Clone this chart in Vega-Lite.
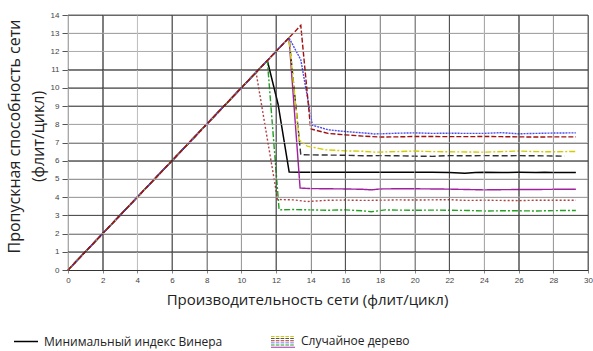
{
  "$schema": "https://vega.github.io/schema/vega-lite/v6.json",
  "width": 520,
  "height": 255,
  "autosize": {"type": "none"},
  "padding": {"left": 68, "top": 15, "right": 5, "bottom": 81},
  "background": "white",
  "config": {
    "view": {"stroke": null},
    "font": "Open Sans",
    "axis": {"grid": true, "gridColor": "#888888", "gridOpacity": 1, "gridWidth": 1},
    "axisX": {
      "titleFont": "Open Sans", "titleFontSize": 15, "titleFontWeight": "normal", "titleColor": "#222",
      "titleX": 239, "titleY": 29, "titleBaseline": "middle", "titleAlign": "center",
      "tickCount": 15, "labelOverlap": false, "labelFlush": false,
      "labelFont": "Liberation Sans", "labelFontSize": 8, "labelColor": "#444", "labelPadding": 3,
      "tickSize": 3, "tickColor": "#888",
      "domain": true, "domainColor": "#333"
    },
    "axisY": {
      "titleFont": "Open Sans", "titleFontSize": 16, "titleFontWeight": "normal", "titleColor": "#222",
      "titleLineHeight": 24,
      "titleX": -54, "titleY": 121, "titleBaseline": "middle", "titleAlign": "center",
      "tickCount": 14, "labelOverlap": false, "labelFlush": false,
      "labelFont": "Liberation Sans", "labelFontSize": 8, "labelColor": "#444", "labelPadding": 3,
      "tickSize": 6, "tickColor": "#555",
      "domain": true, "domainColor": "#aaaaaa"
    }
  },
  "datasets": {
    "gridx": [
      {"x": 0}, {"x": 2}, {"x": 4}, {"x": 6}, {"x": 8}, {"x": 10}, {"x": 12}, {"x": 14},
      {"x": 16}, {"x": 18}, {"x": 20}, {"x": 22}, {"x": 24}, {"x": 26}, {"x": 28}, {"x": 30}
    ],
    "gridy": [
      {"y": 1}, {"y": 2}, {"y": 3}, {"y": 4}, {"y": 5}, {"y": 6}, {"y": 7},
      {"y": 8}, {"y": 9}, {"y": 10}, {"y": 11}, {"y": 12}, {"y": 13}, {"y": 14}
    ],
    "wiener": [
      {"group": "Минимальный индекс Винера", "x": 0, "y": 0},
      {"group": "Минимальный индекс Винера", "x": 11.5, "y": 11.5},
      {"group": "Минимальный индекс Винера", "x": 12.12, "y": 9.1},
      {"group": "Минимальный индекс Винера", "x": 12.76, "y": 5.38},
      {"group": "Минимальный индекс Винера", "x": 13.5, "y": 5.36},
      {"group": "Минимальный индекс Винера", "x": 14, "y": 5.37},
      {"group": "Минимальный индекс Винера", "x": 15, "y": 5.36},
      {"group": "Минимальный индекс Винера", "x": 16, "y": 5.37},
      {"group": "Минимальный индекс Винера", "x": 17, "y": 5.36},
      {"group": "Минимальный индекс Винера", "x": 18, "y": 5.37},
      {"group": "Минимальный индекс Винера", "x": 19, "y": 5.36},
      {"group": "Минимальный индекс Винера", "x": 20, "y": 5.36},
      {"group": "Минимальный индекс Винера", "x": 21, "y": 5.37},
      {"group": "Минимальный индекс Винера", "x": 22, "y": 5.35},
      {"group": "Минимальный индекс Винера", "x": 22.9, "y": 5.31},
      {"group": "Минимальный индекс Винера", "x": 23.5, "y": 5.35},
      {"group": "Минимальный индекс Винера", "x": 24, "y": 5.36},
      {"group": "Минимальный индекс Винера", "x": 25, "y": 5.35},
      {"group": "Минимальный индекс Винера", "x": 26, "y": 5.36},
      {"group": "Минимальный индекс Винера", "x": 27, "y": 5.35},
      {"group": "Минимальный индекс Винера", "x": 27.5, "y": 5.37},
      {"group": "Минимальный индекс Винера", "x": 28, "y": 5.35},
      {"group": "Минимальный индекс Винера", "x": 29.3, "y": 5.35}
    ],
    "trees": [
      {"series": "G", "x": 0, "y": 0},
      {"series": "G", "x": 11.5, "y": 11.5},
      {"series": "G", "x": 12.18, "y": 3.3},
      {"series": "G", "x": 13, "y": 3.32},
      {"series": "G", "x": 14, "y": 3.3},
      {"series": "G", "x": 15, "y": 3.28},
      {"series": "G", "x": 16, "y": 3.3},
      {"series": "G", "x": 17, "y": 3.25},
      {"series": "G", "x": 17.5, "y": 3.2},
      {"series": "G", "x": 18.3, "y": 3.3},
      {"series": "G", "x": 19, "y": 3.29},
      {"series": "G", "x": 20, "y": 3.28},
      {"series": "G", "x": 21, "y": 3.29},
      {"series": "G", "x": 22, "y": 3.28},
      {"series": "G", "x": 23, "y": 3.27},
      {"series": "G", "x": 24, "y": 3.24},
      {"series": "G", "x": 25, "y": 3.25},
      {"series": "G", "x": 26, "y": 3.25},
      {"series": "G", "x": 27, "y": 3.24},
      {"series": "G", "x": 28, "y": 3.26},
      {"series": "G", "x": 29.3, "y": 3.27},

      {"series": "R", "x": 0, "y": 0},
      {"series": "R", "x": 10.85, "y": 10.85},
      {"series": "R", "x": 12.09, "y": 3.87},
      {"series": "R", "x": 13, "y": 3.85},
      {"series": "R", "x": 13.8, "y": 3.76},
      {"series": "R", "x": 14.5, "y": 3.8},
      {"series": "R", "x": 15, "y": 3.83},
      {"series": "R", "x": 16, "y": 3.84},
      {"series": "R", "x": 17, "y": 3.82},
      {"series": "R", "x": 18, "y": 3.83},
      {"series": "R", "x": 19, "y": 3.85},
      {"series": "R", "x": 20, "y": 3.84},
      {"series": "R", "x": 21, "y": 3.85},
      {"series": "R", "x": 22, "y": 3.86},
      {"series": "R", "x": 23, "y": 3.82},
      {"series": "R", "x": 24, "y": 3.83},
      {"series": "R", "x": 25, "y": 3.82},
      {"series": "R", "x": 26, "y": 3.81},
      {"series": "R", "x": 27, "y": 3.83},
      {"series": "R", "x": 28, "y": 3.83},
      {"series": "R", "x": 29.3, "y": 3.83},

      {"series": "P", "x": 0, "y": 0},
      {"series": "P", "x": 12.75, "y": 12.75},
      {"series": "P", "x": 13.39, "y": 4.5},
      {"series": "P", "x": 14, "y": 4.47},
      {"series": "P", "x": 15, "y": 4.46},
      {"series": "P", "x": 16, "y": 4.45},
      {"series": "P", "x": 17, "y": 4.43},
      {"series": "P", "x": 17.5, "y": 4.4},
      {"series": "P", "x": 18, "y": 4.45},
      {"series": "P", "x": 19, "y": 4.46},
      {"series": "P", "x": 20, "y": 4.46},
      {"series": "P", "x": 21, "y": 4.45},
      {"series": "P", "x": 22, "y": 4.44},
      {"series": "P", "x": 23, "y": 4.42},
      {"series": "P", "x": 24, "y": 4.4},
      {"series": "P", "x": 25, "y": 4.41},
      {"series": "P", "x": 26, "y": 4.42},
      {"series": "P", "x": 27, "y": 4.42},
      {"series": "P", "x": 28, "y": 4.43},
      {"series": "P", "x": 29.3, "y": 4.43},

      {"series": "K", "x": 0, "y": 0},
      {"series": "K", "x": 12.75, "y": 12.75},
      {"series": "K", "x": 13.43, "y": 6.33},
      {"series": "K", "x": 14, "y": 6.32},
      {"series": "K", "x": 15, "y": 6.31},
      {"series": "K", "x": 16, "y": 6.3},
      {"series": "K", "x": 17, "y": 6.27},
      {"series": "K", "x": 18, "y": 6.28},
      {"series": "K", "x": 19, "y": 6.27},
      {"series": "K", "x": 20, "y": 6.25},
      {"series": "K", "x": 21, "y": 6.24},
      {"series": "K", "x": 22, "y": 6.28},
      {"series": "K", "x": 23, "y": 6.27},
      {"series": "K", "x": 24, "y": 6.28},
      {"series": "K", "x": 25, "y": 6.27},
      {"series": "K", "x": 26, "y": 6.28},
      {"series": "K", "x": 27, "y": 6.27},
      {"series": "K", "x": 28, "y": 6.26},
      {"series": "K", "x": 28.66, "y": 6.25},

      {"series": "Y", "x": 0, "y": 0},
      {"series": "Y", "x": 12.75, "y": 12.75},
      {"series": "Y", "x": 13.33, "y": 7.14},
      {"series": "Y", "x": 13.8, "y": 6.8},
      {"series": "Y", "x": 14.87, "y": 6.6},
      {"series": "Y", "x": 16, "y": 6.54},
      {"series": "Y", "x": 17, "y": 6.52},
      {"series": "Y", "x": 17.7, "y": 6.47},
      {"series": "Y", "x": 19, "y": 6.5},
      {"series": "Y", "x": 20, "y": 6.53},
      {"series": "Y", "x": 21, "y": 6.5},
      {"series": "Y", "x": 22, "y": 6.49},
      {"series": "Y", "x": 23, "y": 6.48},
      {"series": "Y", "x": 24, "y": 6.47},
      {"series": "Y", "x": 25, "y": 6.5},
      {"series": "Y", "x": 26, "y": 6.53},
      {"series": "Y", "x": 27, "y": 6.5},
      {"series": "Y", "x": 28, "y": 6.49},
      {"series": "Y", "x": 29.3, "y": 6.51},

      {"series": "B", "x": 0, "y": 0},
      {"series": "B", "x": 12.75, "y": 12.75},
      {"series": "B", "x": 13.43, "y": 11.54},
      {"series": "B", "x": 14.1, "y": 7.95},
      {"series": "B", "x": 15, "y": 7.7},
      {"series": "B", "x": 16, "y": 7.6},
      {"series": "B", "x": 17, "y": 7.53},
      {"series": "B", "x": 17.7, "y": 7.47},
      {"series": "B", "x": 19, "y": 7.51},
      {"series": "B", "x": 20, "y": 7.53},
      {"series": "B", "x": 21, "y": 7.5},
      {"series": "B", "x": 22, "y": 7.51},
      {"series": "B", "x": 23, "y": 7.5},
      {"series": "B", "x": 24, "y": 7.5},
      {"series": "B", "x": 25, "y": 7.54},
      {"series": "B", "x": 26, "y": 7.48},
      {"series": "B", "x": 27, "y": 7.5},
      {"series": "B", "x": 28, "y": 7.52},
      {"series": "B", "x": 29.3, "y": 7.53},

      {"series": "D", "x": 0, "y": 0},
      {"series": "D", "x": 13.43, "y": 13.43},
      {"series": "D", "x": 14.0, "y": 7.75},
      {"series": "D", "x": 15, "y": 7.5},
      {"series": "D", "x": 16, "y": 7.42},
      {"series": "D", "x": 17, "y": 7.35},
      {"series": "D", "x": 18, "y": 7.3},
      {"series": "D", "x": 19, "y": 7.31},
      {"series": "D", "x": 20, "y": 7.33},
      {"series": "D", "x": 21, "y": 7.33},
      {"series": "D", "x": 22, "y": 7.32},
      {"series": "D", "x": 23, "y": 7.32},
      {"series": "D", "x": 24, "y": 7.33},
      {"series": "D", "x": 25, "y": 7.32},
      {"series": "D", "x": 26, "y": 7.31},
      {"series": "D", "x": 27, "y": 7.3},
      {"series": "D", "x": 28, "y": 7.31},
      {"series": "D", "x": 29.3, "y": 7.31}
    ]
  },
  "layer": [
    {
      "data": {"name": "wiener"},
      "mark": {"type": "line", "strokeWidth": 1.5},
      "encoding": {
        "x": {"field": "x", "type": "quantitative", "scale": {"domain": [0, 30], "nice": false, "zero": false}, "title": "Производительность сети (флит/цикл)"},
        "y": {"field": "y", "type": "quantitative", "scale": {"domain": [0, 14], "nice": false}, "title": ["Пропускная способность сети", "(флит/цикл)"]},
        "color": {
          "field": "group", "type": "nominal",
          "scale": {"domain": ["Минимальный индекс Винера", "Случайное дерево"], "range": ["#000000", "#a03030"]},
          "legend": {
            "title": null,
            "orient": "none", "legendX": -55, "legendY": 313,
            "direction": "horizontal", "columns": 2, "columnPadding": 47,
            "symbolType": "stroke", "symbolSize": 576, "symbolStrokeWidth": 1.5,
            "labelFont": "Open Sans", "labelFontSize": 12, "labelColor": "#222", "labelOffset": 5, "labelLimit": 400,
            "encode": {
              "symbols": {
                "update": {
                  "shape": [
                    {"test": "datum.value === 'Случайное дерево'", "value": "M-1,-0.45H-0.7V-0.37H-1ZM-0.6,-0.45H-0.3V-0.37H-0.6ZM-0.2,-0.45H0.1V-0.37H-0.2ZM0.2,-0.45H0.5V-0.37H0.2ZM0.6,-0.45H0.9V-0.37H0.6ZM-1,-0.27H-0.7V-0.19H-1ZM-0.6,-0.27H-0.3V-0.19H-0.6ZM-0.2,-0.27H0.1V-0.19H-0.2ZM0.2,-0.27H0.5V-0.19H0.2ZM0.6,-0.27H0.9V-0.19H0.6ZM-1,-0.09H-0.7V-0.01H-1ZM-0.6,-0.09H-0.3V-0.01H-0.6ZM-0.2,-0.09H0.1V-0.01H-0.2ZM0.2,-0.09H0.5V-0.01H0.2ZM0.6,-0.09H0.9V-0.01H0.6ZM-1,0.09H-0.7V0.17H-1ZM-0.6,0.09H-0.3V0.17H-0.6ZM-0.2,0.09H0.1V0.17H-0.2ZM0.2,0.09H0.5V0.17H0.2ZM0.6,0.09H0.9V0.17H0.6ZM-1,0.27H-0.7V0.35H-1ZM-0.6,0.27H-0.3V0.35H-0.6ZM-0.2,0.27H0.1V0.35H-0.2ZM0.2,0.27H0.5V0.35H0.2ZM0.6,0.27H0.9V0.35H0.6ZM-1,0.45H1V0.53H-1Z"},
                    {"value": "stroke"}
                  ],
                  "strokeOpacity": [
                    {"test": "datum.value === 'Случайное дерево'", "value": 0},
                    {"value": 1}
                  ],
                  "fillOpacity": {"value": 1},
                  "fill": [
                    {"test": "datum.value === 'Случайное дерево'", "value": {"gradient": "linear", "x1": 0, "y1": 0, "x2": 0, "y2": 1, "stops": [
                      {"offset": 0, "color": "#d4cc00"}, {"offset": 0.16, "color": "#d4cc00"},
                      {"offset": 0.16, "color": "#555555"}, {"offset": 0.33, "color": "#555555"},
                      {"offset": 0.33, "color": "#b03030"}, {"offset": 0.5, "color": "#b03030"},
                      {"offset": 0.5, "color": "#5050ee"}, {"offset": 0.67, "color": "#5050ee"},
                      {"offset": 0.67, "color": "#22a022"}, {"offset": 0.84, "color": "#22a022"},
                      {"offset": 0.84, "color": "#b030b0"}, {"offset": 1, "color": "#b030b0"}
                    ]}},
                    {"value": "transparent"}
                  ]
                }
              }
            }
          }
        }
      }
    },
    {
      "data": {"name": "trees"},
      "mark": {"type": "line", "strokeWidth": 1.4},
      "encoding": {
        "x": {"field": "x", "type": "quantitative", "title": "Производительность сети (флит/цикл)"},
        "y": {"field": "y", "type": "quantitative", "title": ["Пропускная способность сети", "(флит/цикл)"]},
        "color": {
          "field": "series", "type": "nominal", "legend": null,
          "scale": {"domain": ["G", "R", "P", "K", "Y", "B", "D"],
                    "range": ["#22a022", "#b04040", "#a020a0", "#333333", "#d4cc00", "#4a4aee", "#a01010"]}
        },
        "strokeDash": {
          "field": "series", "type": "nominal", "legend": null,
          "scale": {"domain": ["G", "R", "P", "K", "Y", "B", "D"],
                    "range": [[6, 2, 2, 2], [2, 2], [1, 0], [6, 3], [6, 2, 2, 2], [2, 1], [5, 2]]}
        }
      }
    },
    {
      "data": {"name": "gridx"},
      "mark": {"type": "rule", "strokeWidth": 1, "opacity": 0.75},
      "encoding": {
        "x": {"field": "x", "type": "quantitative", "title": "Производительность сети (флит/цикл)"},
        "color": {
          "condition": [
            {"test": "indexof([2, 6, 12, 16, 22, 26, 30], datum.x) >= 0", "value": "#333333"},
            {"test": "indexof([4, 14, 24], datum.x) >= 0", "value": "#e0e0e0"}
          ],
          "value": "#a8a8a8"
        }
      }
    },
    {
      "data": {"name": "gridy"},
      "mark": {"type": "rule", "strokeWidth": 1, "opacity": 0.75},
      "encoding": {
        "y": {"field": "y", "type": "quantitative", "title": ["Пропускная способность сети", "(флит/цикл)"]},
        "color": {
          "condition": {"test": "indexof([1, 3, 6, 9, 10, 11, 14], datum.y) >= 0", "value": "#333333"},
          "value": "#bdbdbd"
        }
      }
    }
  ],
  "resolve": {"scale": {"color": "independent"}, "legend": {"color": "independent"}}
}
